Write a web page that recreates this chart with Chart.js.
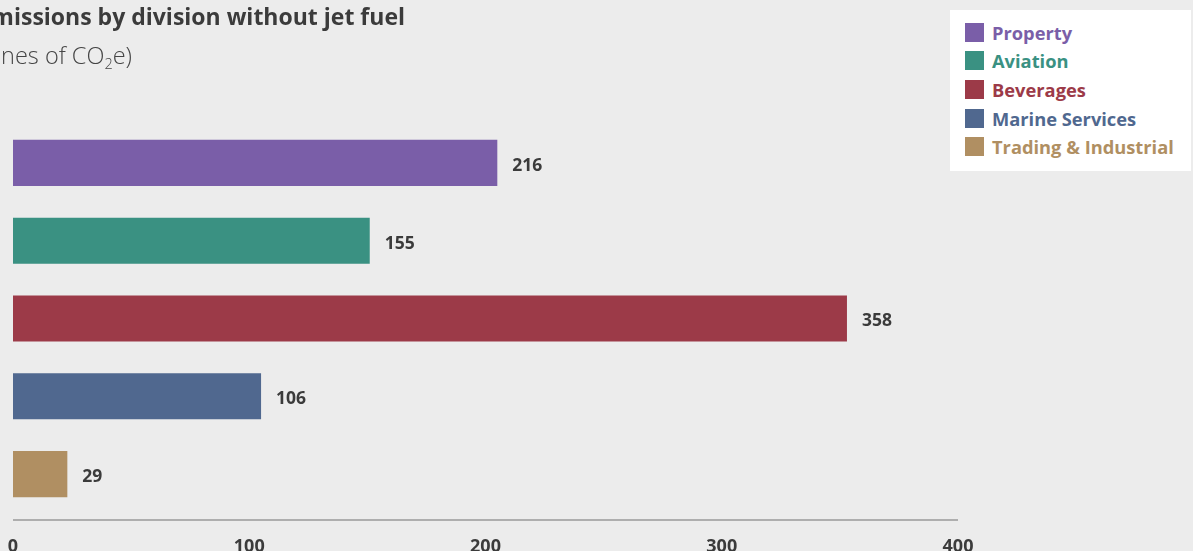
<!DOCTYPE html>
<html>
<head>
<meta charset="utf-8">
<script src="https://cdn.jsdelivr.net/npm/chart.js@4/dist/chart.umd.min.js"></script>
<style>
  html, body { margin: 0; padding: 0; background: #ececec; overflow: hidden; }
  #wrap { position: relative; width: 1193px; height: 551px; overflow: hidden; background: #ececec; font-family: "Open Sans", "Noto Sans", sans-serif; }
  #c { position: absolute; left: 0; top: 0; }
  .ttl { position: absolute; white-space: nowrap; text-align: right; color: #3b3b3b; }
  #title { right: 788px; top: 0px; font-size: 23px; font-weight: 700; }
  #subtitle { right: 1061px; top: 39px; font-size: 23.5px; font-weight: 300; color: #444; }
  #subtitle sub { font-size: 14.5px; vertical-align: -5px; line-height: 0; }
  #legend { position: absolute; left: 950px; top: 10px; width: 241px; height: 161px; background: #fff; }
  .li { position: absolute; left: 15px; height: 19px; display: flex; align-items: center; font-weight: 700; font-size: 18.3px; white-space: nowrap; }
  .sw { width: 19px; height: 19px; margin-right: 8px; flex: none; }
</style>
</head>
<body>
<div id="wrap">
  <canvas id="c" width="1193" height="551"></canvas>
  <div id="title" class="ttl">Emissions by division without jet fuel</div>
  <div id="subtitle" class="ttl">(tonnes of CO<sub>2</sub>e)</div>
  <div id="legend"></div>
</div>
<script>
// Categories (divisions)
const categories = ["Property", "Aviation", "Beverages", "Marine Services", "Trading & Industrial"];
// Bar lengths as drawn in the picture (axis units)
const barValues = [205, 151, 353, 105, 23];
// Value labels as printed next to each bar
const valueLabels = ["216", "155", "358", "106", "29"];
// Series colours
const colors = ["#7a5ea8", "#3a9182", "#9c3a48", "#50688f", "#b08f62"];
// X-axis tick values
const xTicks = [0, 100, 200, 300, 400];

// HTML legend built from the arrays
const legend = document.getElementById("legend");
const legendTops = [13, 41, 70, 99, 127];
categories.forEach((cat, i) => {
  const d = document.createElement("div");
  d.className = "li";
  d.style.top = legendTops[i] + "px";
  d.style.color = colors[i];
  const s = document.createElement("span");
  s.className = "sw";
  s.style.background = colors[i];
  d.appendChild(s);
  d.appendChild(document.createTextNode(cat));
  legend.appendChild(d);
});

const valueLabelPlugin = {
  id: "valueLabels",
  afterDatasetsDraw(chart) {
    const ctx = chart.ctx;
    const meta = chart.getDatasetMeta(0);
    ctx.save();
    ctx.font = "700 17.5px 'Open Sans', 'Noto Sans', sans-serif";
    ctx.fillStyle = "#3b3b3b";
    ctx.textAlign = "left";
    ctx.textBaseline = "middle";
    meta.data.forEach((bar, i) => {
      ctx.fillText(valueLabels[i], bar.x + 15, bar.y + 3);
    });
    ctx.restore();
  }
};

const axisLinePlugin = {
  id: "axisLine",
  afterDraw(chart) {
    const x = chart.scales.x;
    const ctx = chart.ctx;
    const y = chart.chartArea.bottom + 7;
    ctx.save();
    ctx.strokeStyle = "#9a9a9a";
    ctx.lineWidth = 1.5;
    ctx.beginPath();
    ctx.moveTo(x.getPixelForValue(xTicks[0]), y);
    ctx.lineTo(x.getPixelForValue(xTicks[xTicks.length - 1]), y);
    ctx.stroke();
    ctx.restore();
  }
};

new Chart(document.getElementById("c"), {
  type: "bar",
  data: {
    labels: categories,
    datasets: [{
      data: barValues,
      backgroundColor: colors,
      borderWidth: 0,
      categoryPercentage: 1,
      barPercentage: 0.592
    }]
  },
  options: {
    indexAxis: "y",
    responsive: false,
    maintainAspectRatio: false,
    animation: false,
    layout: { padding: { left: 0, right: 235, top: 124, bottom: 0 } },
    plugins: { legend: { display: false }, tooltip: { enabled: false } },
    scales: {
      x: {
        min: xTicks[0],
        max: xTicks[xTicks.length - 1],
        afterBuildTicks: (s) => { s.ticks = xTicks.map(v => ({ value: v })); },
        afterFit: (s) => { s.height = 38; s.paddingLeft = 13; },
        grid: { display: false, drawTicks: false },
        border: { display: false },
        ticks: {
          padding: 23,
          color: "#3b3b3b",
          font: { family: "'Open Sans', 'Noto Sans', sans-serif", size: 18, weight: "700" },
          maxRotation: 0
        }
      },
      y: { display: false }
    }
  },
  plugins: [valueLabelPlugin, axisLinePlugin]
});
</script>
</body>
</html>
